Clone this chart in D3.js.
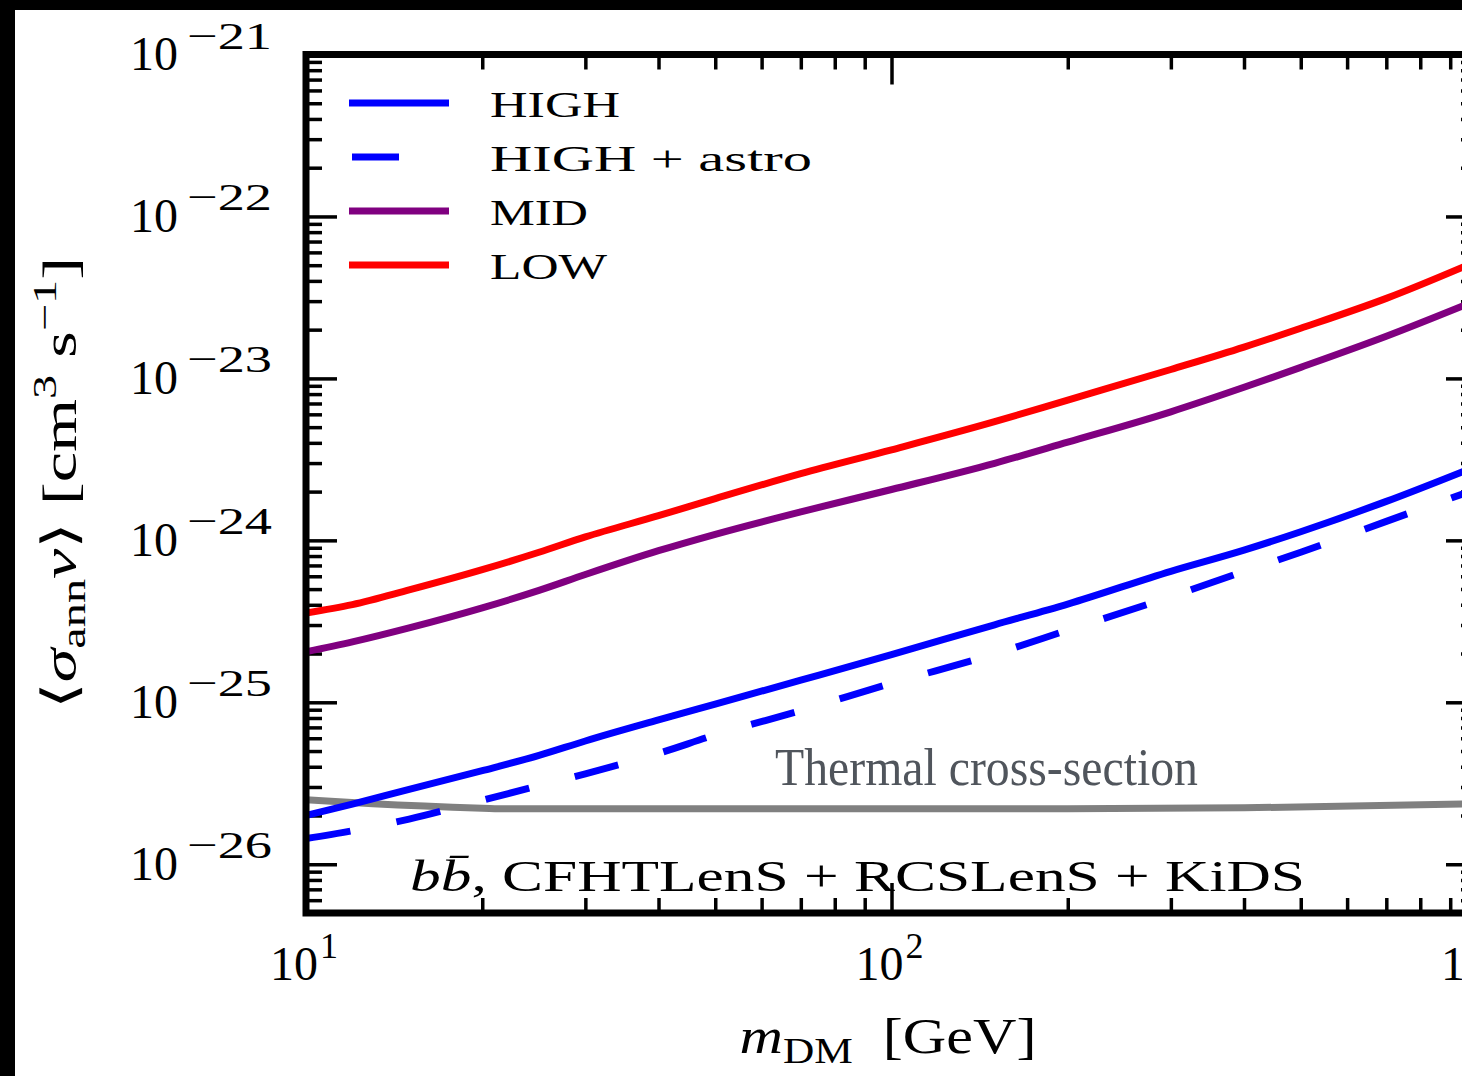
<!DOCTYPE html>
<html>
<head>
<meta charset="utf-8">
<script src="https://cdn.jsdelivr.net/npm/d3@7"></script>
<style>
  body { margin: 0; background: #000; }
  svg { display: block; }
  text { font-family: "Liberation Serif", "DejaVu Serif", serif; fill: #000; }
</style>
</head>
<body>
<svg id="chart" width="1462" height="1076"></svg>
<script>
// Dark matter mass grid [GeV] and annihilation cross-section limits [cm^3 s^-1]
const massGeV = [10, 12, 15, 20, 25, 30, 40, 50, 70, 100, 150, 200, 300, 400, 500, 700, 1000];
const lowVals = [3.56e-25, 4.01e-25, 4.94e-25, 6.59e-25, 8.44e-25, 1.05e-24, 1.42e-24, 1.81e-24, 2.58e-24,
  3.62e-24, 5.40e-24, 7.35e-24, 1.135e-23, 1.56e-23, 2.04e-23, 3.12e-23, 5.3e-23];
const midVals = [2.05e-25, 2.36e-25, 2.88e-25, 3.83e-25, 4.91e-25, 6.15e-25, 8.63e-25, 1.09e-24, 1.50e-24,
  2.06e-24, 2.99e-24, 4.04e-24, 6.22e-24, 8.81e-24, 1.17e-23, 1.82e-23, 3.04e-23];
const highVals = [2.0e-26, 2.35e-26, 2.90e-26, 3.78e-26, 4.70e-26, 5.77e-26, 7.78e-26, 9.75e-26, 1.37e-25,
  1.97e-25, 3.01e-25, 4.04e-25, 6.44e-25, 8.70e-25, 1.13e-24, 1.74e-24, 2.88e-24];
const highAstroVals = [1.44e-26, 1.61e-26, 1.90e-26, 2.48e-26, 3.06e-26, 3.62e-26, 4.84e-26, 6.29e-26, 8.89e-26,
  1.31e-25, 1.99e-25, 2.79e-25, 4.49e-25, 6.43e-25, 8.44e-25, 1.31e-24, 2.08e-24];
const thermalMass = [10, 13, 20, 22, 50, 100, 200, 400, 1000];
const thermalVals = [2.5e-26, 2.36e-26, 2.22e-26, 2.2e-26, 2.2e-26, 2.2e-26, 2.2e-26, 2.23e-26, 2.36e-26];

const legendLabels = ['HIGH', 'HIGH + astro', 'MID', 'LOW'];
const legendWidths = [130, 322, 98, 117];
const xMajor = [10, 100, 1000];
const xTickExp = ['1', '2', '3'];
const yMajor = [1e-26, 1e-25, 1e-24, 1e-23, 1e-22, 1e-21];
const yTickExp = ['\u221226', '\u221225', '\u221224', '\u221223', '\u221222', '\u221221'];

const W = 1462, H = 1076;
const L = 306, R = 1477, T = 54.5, B = 913;

const svg = d3.select('#chart');
svg.append('rect').attr('x', 15).attr('y', 10).attr('width', W).attr('height', H).attr('fill', '#fff');

const x = d3.scaleLog().domain([10, 1000]).range([L, R]);
const y = d3.scaleLog().domain([5e-27, 1e-21]).range([B, T]);

const xMinor = x.ticks().filter(d => !xMajor.includes(d));
const yMinor = y.ticks().filter(d => !yMajor.some(m => Math.abs(m - d) / m < 1e-6) && d > 5.5e-27);

function tickAxis(axisFn, scale, transform, values, size) {
  const g = svg.append('g').attr('transform', transform)
    .call(axisFn(scale).tickValues(values).tickSize(size).tickFormat(''));
  g.select('.domain').remove();
  g.selectAll('.tick line').attr('stroke', '#000').attr('stroke-width', 3.5);
  return g;
}

// Inward ticks on all four sides
tickAxis(d3.axisBottom, x, `translate(0,${B})`, xMinor, -15);
tickAxis(d3.axisBottom, x, `translate(0,${B})`, xMajor, -30);
tickAxis(d3.axisTop, x, `translate(0,${T})`, xMinor, -15);
tickAxis(d3.axisTop, x, `translate(0,${T})`, xMajor, -30);
tickAxis(d3.axisLeft, y, `translate(${L},0)`, yMinor, -16);
tickAxis(d3.axisLeft, y, `translate(${L},0)`, yMajor, -31);
tickAxis(d3.axisRight, y, `translate(${R},0)`, yMinor, -16);
tickAxis(d3.axisRight, y, `translate(${R},0)`, yMajor, -31);

// Tick labels 10^n
yMajor.forEach((v, i) => {
  svg.append('text').attr('x', 178).attr('y', y(v) + 15.5)
    .attr('text-anchor', 'end').attr('font-size', 48).text('10');
  svg.append('text').attr('x', 187).attr('y', y(v) - 6)
    .attr('font-size', 38).attr('textLength', 85).attr('lengthAdjust', 'spacingAndGlyphs')
    .text(yTickExp[i]);
});
xMajor.forEach((v, i) => {
  svg.append('text').attr('x', x(v) + 12).attr('y', 980)
    .attr('text-anchor', 'end').attr('font-size', 48).text('10');
  svg.append('text').attr('x', x(v) + 14).attr('y', 958)
    .attr('font-size', 36).text(xTickExp[i]);
});

// Curves
svg.append('clipPath').attr('id', 'plotClip').append('rect')
  .attr('x', L).attr('y', T).attr('width', R - L).attr('height', B - T);
const plot = svg.append('g').attr('clip-path', 'url(#plotClip)');

const line = d3.line().x(d => x(d[0])).y(d => y(d[1])).curve(d3.curveMonotoneX);
const series = [
  { mass: thermalMass, vals: thermalVals, color: '#808080', dash: null },
  { mass: massGeV, vals: lowVals, color: '#ff0000', dash: null },
  { mass: massGeV, vals: midVals, color: '#800080', dash: null },
  { mass: massGeV, vals: highVals, color: '#0000ff', dash: null },
  { mass: massGeV, vals: highAstroVals, color: '#0000ff', dash: '45,47' }
];
plot.selectAll('.curve').data(series).join('path')
  .attr('class', 'curve')
  .attr('d', s => line(s.mass.map((m, i) => [m, s.vals[i]])))
  .attr('fill', 'none')
  .attr('stroke', s => s.color)
  .attr('stroke-width', 7)
  .attr('stroke-dasharray', s => s.dash);

// Frame
svg.append('rect').attr('x', L).attr('y', T).attr('width', R - L).attr('height', B - T)
  .attr('fill', 'none').attr('stroke', '#000').attr('stroke-width', 7);

// Legend
const legendColors = ['#0000ff', '#0000ff', '#800080', '#ff0000'];
const legendDash = [null, '47,60', null, null];
const lg = svg.append('g');
legendLabels.forEach((lab, i) => {
  const ly = 103 + i * 54;
  lg.append('line').attr('x1', i === 1 ? 352 : 349).attr('x2', 449).attr('y1', ly).attr('y2', ly)
    .attr('stroke', legendColors[i]).attr('stroke-width', 7).attr('stroke-dasharray', legendDash[i]);
  lg.append('text').attr('x', 490).attr('y', ly + 14).attr('font-size', 36)
    .attr('textLength', legendWidths[i]).attr('lengthAdjust', 'spacingAndGlyphs').text(lab);
});

// Annotations
svg.append('text').attr('x', 775).attr('y', 785).attr('font-size', 52)
  .attr('textLength', 423).attr('lengthAdjust', 'spacingAndGlyphs')
  .style('fill', '#50555c').text('Thermal cross-section');

const note = svg.append('text').attr('x', 410).attr('y', 891).attr('font-size', 44)
  .attr('textLength', 895).attr('lengthAdjust', 'spacingAndGlyphs');
note.append('tspan').attr('font-style', 'italic').text('b');
note.append('tspan').attr('font-style', 'italic').text('b\u0304');
note.append('tspan').text(', CFHTLenS + RCSLenS + KiDS');

// Axis titles
const xt = svg.append('text').attr('x', 888).attr('y', 1053).attr('text-anchor', 'middle')
  .attr('font-size', 50).attr('textLength', 297).attr('lengthAdjust', 'spacingAndGlyphs');
xt.append('tspan').attr('font-style', 'italic').text('m');
xt.append('tspan').attr('font-size', 36).attr('dy', 10).text('DM');
xt.append('tspan').attr('dy', -10).text('\u2002[GeV]');

const yt = svg.append('text').attr('transform', 'translate(76,483) rotate(-90)')
  .attr('text-anchor', 'middle').attr('font-size', 48)
  .attr('textLength', 452).attr('lengthAdjust', 'spacingAndGlyphs');
yt.append('tspan').text('\u27E8');
yt.append('tspan').attr('font-style', 'italic').text('\u03C3');
yt.append('tspan').attr('font-size', 34).attr('dy', 9).text('ann');
yt.append('tspan').attr('dy', -9).attr('font-style', 'italic').text('v');
yt.append('tspan').text('\u27E9 [cm');
yt.append('tspan').attr('font-size', 34).attr('dy', -20).text('3');
yt.append('tspan').attr('dy', 20).text(' s');
yt.append('tspan').attr('font-size', 34).attr('dy', -20).text('\u22121');
yt.append('tspan').attr('dy', 20).text(']');
</script>
</body>
</html>
